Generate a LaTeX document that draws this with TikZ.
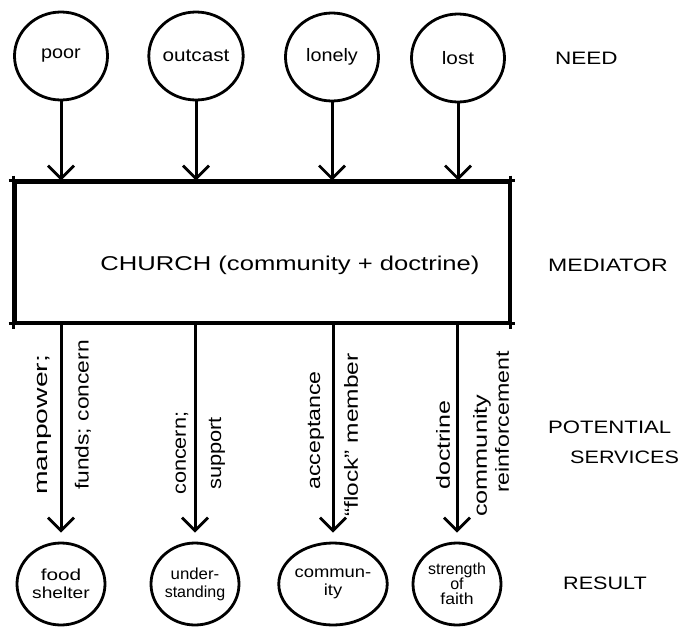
\documentclass[tikz,border=0pt]{standalone}
\usepackage{fontspec}
\usepackage{graphicx}
\setmainfont{Liberation Sans}
\usetikzlibrary{arrows.meta,shapes.geometric}
\newcommand\hs[2]{\scalebox{#1}[1]{#2}}
\begin{document}
\begin{tikzpicture}[x=1pt,y=-1pt,
 need/.style={draw,ellipse,line width=2.8pt,minimum width=93pt,minimum height=88pt,inner sep=0pt,font=\fontsize{18}{18}\selectfont},
 res/.style={draw,ellipse,line width=2.8pt,minimum width=88pt,minimum height=82pt,inner sep=0pt,align=center,font=\fontsize{16}{16}\selectfont},
 flow/.style={line width=3pt,-{Straight Barb[length=13pt,width=26pt,line width=2.8pt]}},
 lbl/.style={rotate=90,anchor=west,inner sep=0pt,font=\fontsize{19}{20}\selectfont},
 side/.style={inner sep=0pt,anchor=west,font=\fontsize{18}{20}\selectfont},
 frame/.style={line width=3pt}]
\useasboundingbox (0,0) rectangle (685,635);
% needs
\node[need] (poor) at (61,56) {\hs{1.1}{poor}};
\node[need] (outcast) at (196,56) {\hs{1.15}{outcast}};
\node[need] (lonely) at (332,57) {\hs{1.1}{lonely}};
\node[need] (lost) at (458,58) {\hs{1.15}{lost}};
% church box
\node[draw,frame,minimum width=494pt,minimum height=140pt,inner sep=0pt] (church) at (262,252) {};
\node[inner sep=0pt,font=\fontsize{20}{22}\selectfont] (churchtext) at (290,265) {\hs{1.28}{CHURCH (community + doctrine)}};
\draw[frame] ([xshift=-5pt]church.north west) -- ([xshift=4pt]church.north east);
\draw[frame] ([xshift=-5pt]church.south west) -- ([xshift=4pt]church.south east);
\draw[frame] ([yshift=5pt]church.north west) -- ([yshift=-5pt]church.south west);
\draw[frame] ([yshift=5pt]church.north east) -- ([yshift=-5pt]church.south east);
% results
\node[res] (food) at (61,584) {\hs{1.3}{food}\\[2pt]\hs{1.2}{shelter}};
\node[res] (under) at (195,584) {\hs{1.05}{under-}\\[2pt]\hs{1.0}{standing}};
\node[res] (comm) at (333,584) {\hs{1.15}{commun-}\\[2pt]\hs{1.15}{ity}};
\node[res] (faith) at (457,584) {\hs{1.0}{strength}\\[-1pt]\hs{1.0}{of}\\[-1pt]\hs{1.1}{faith}};
% arrows in
\foreach \n in {poor,outcast,lonely,lost}
  \draw[flow] (\n.south) -- (\n.south |- church.north);
% arrows out
\foreach \n in {food,under,comm,faith}
  \draw[flow,shorten >=9pt] (church.south -| \n.north) -- (\n.north);
% service labels
\node[lbl] (l1a) at (44,495) {\hs{1.49}{manpower;}};
\node[lbl] (l1b) at (83,490) {\hs{1.2}{funds; concern}};
\node[lbl] (l2a) at (182,495) {\hs{1.14}{concern;}};
\node[lbl] (l2b) at (217,490) {\hs{1.15}{support}};
\node[lbl] (l3a) at (316,490) {\hs{1.22}{acceptance}};
\node[lbl] (l3b) at (351,517) {\hs{1.29}{``flock'' member}};
\node[lbl] (l4a) at (443,490) {\hs{1.32}{doctrine}};
\node[lbl] (l4b) at (482,517) {\hs{1.33}{community}};
\node[lbl] (l4c) at (502,493) {\hs{1.22}{reinforcement}};
% side labels
\node[side] (need) at (555,58) {\hs{1.25}{NEED}};
\node[side] (med) at (548,265) {\hs{1.28}{MEDIATOR}};
\node[side] (pot) at (548,427) {\hs{1.23}{POTENTIAL}};
\node[side] (serv) at (570,457) {\hs{1.2}{SERVICES}};
\node[side] (res) at (563,583) {\hs{1.2}{RESULT}};
\end{tikzpicture}
\end{document}
